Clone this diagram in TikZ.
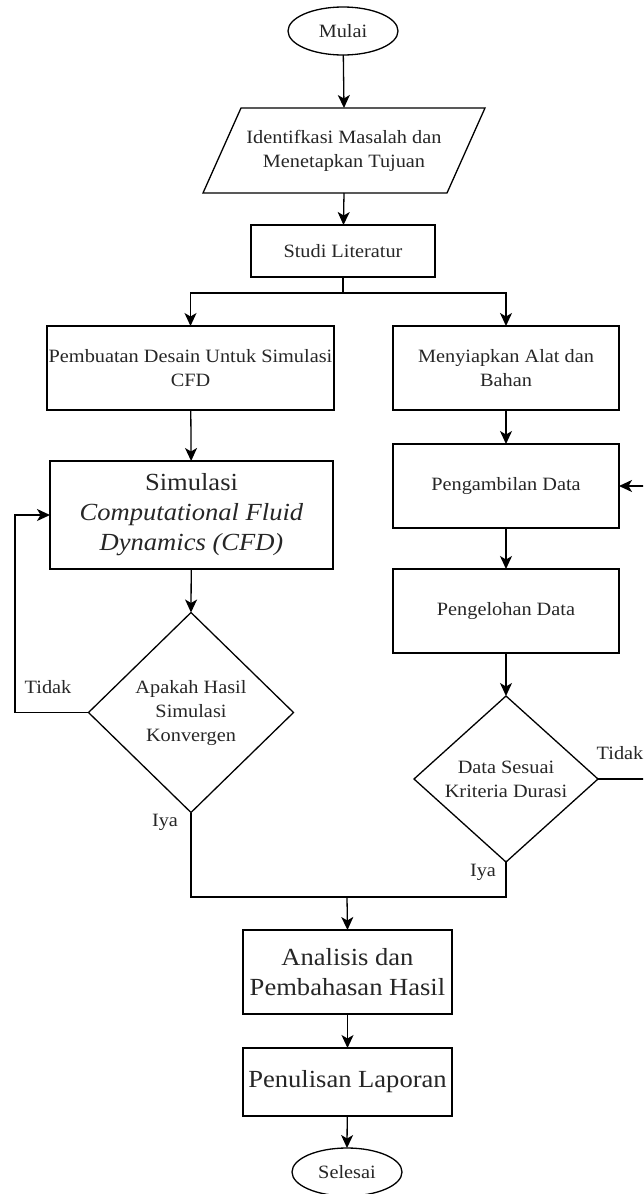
\documentclass[tikz,border=0pt]{standalone}
\usepackage{fontspec}
\setmainfont{Liberation Serif}[FakeStretch=1.08]
\usetikzlibrary{shapes.geometric,arrows.meta}
\begin{document}
\begin{tikzpicture}[x=1pt,y=-1pt,
  line width=1.3pt,
  every node/.style={inner sep=0pt,outer sep=0pt,align=center,text=black!85},
  sm/.style={font=\fontsize{18.8}{24}\selectfont},
  lg/.style={font=\fontsize{24.6}{30}\selectfont},
  boxr/.style={draw,rectangle,line width=1.3pt},
  term/.style={draw,ellipse,minimum width=110pt,line width=1.3pt},
  dec/.style={draw,diamond,line width=1.3pt},
  arr/.style={-{Stealth[length=13pt,width=12pt,inset=3.5pt]}},
  conn/.style={line width=1.3pt}]
\useasboundingbox (0,0) rectangle (643,1194);
\clip (0,0) rectangle (643,1194);

\node[term,sm,minimum height=48pt] (mulai) at (343,31) {Mulai};
\node[sm,minimum width=282pt,minimum height=85pt] (ident) at (344,150.5) {Identifkasi Masalah dan\\Menetapkan Tujuan};
\draw[line width=1.3pt] (ident.south west) -- ++(244,0) -- (ident.north east) -- ++(-244,0) -- cycle;
\node[boxr,sm,minimum width=184pt,minimum height=52pt] (studi) at (343,251) {Studi Literatur};

\node[boxr,sm,minimum width=287pt,minimum height=84pt] (desain) at (190.5,368) {Pembuatan Desain Untuk Simulasi\\CFD};
\node[boxr,sm,minimum width=226pt,minimum height=84pt] (siap) at (506,368) {Menyiapkan Alat dan\\Bahan};

\node[boxr,lg,minimum width=283pt,minimum height=108pt] (simulasi) at (191.5,515) {Simulasi\\\textit{Computational Fluid}\\\textit{Dynamics (CFD)}};
\node[boxr,sm,minimum width=226pt,minimum height=84pt] (ambil) at (506,486) {Pengambilan Data};
\node[boxr,sm,minimum width=226pt,minimum height=84pt] (olah) at (506,611) {Pengelohan Data};

\node[dec,sm,minimum width=205pt,minimum height=200pt,shape aspect=1.025] (dsim) at (191,712.5) {Apakah Hasil\\Simulasi\\Konvergen};
\node[dec,sm,minimum width=184pt,minimum height=166pt,shape aspect=1.108] (ddata) at (506,779) {Data Sesuai\\Kriteria Durasi};

\node[sm] (tidak1) at (48,687) {Tidak};
\node[sm] (iya1) at (165,822) {Iya};
\node[sm] (tidak2) at (620,753) {Tidak};
\node[sm] (iya2) at (483,872) {Iya};

\node[boxr,lg,minimum width=209pt,minimum height=84pt] (analisis) at (347.5,972) {Analisis dan\\Pembahasan Hasil};
\node[boxr,lg,minimum width=209pt,minimum height=68pt] (tulis) at (347.5,1082) {Penulisan Laporan};
\node[term,sm,minimum height=48pt] (selesai) at (347,1172) {Selesai};

\coordinate (split) at (343,293);
\coordinate (merge) at (347,897);
\coordinate (loopL) at (15,712.5);
\coordinate (loopR) at (660,779);

\draw[arr] (mulai) -- (ident.north);
\draw[arr] (ident.south) -- (studi);
\draw[conn] (studi.south) -- (split);
\draw[arr] (split) -| (desain.north);
\draw[arr] (split) -| (siap.north);
\draw[arr] (desain) -- (simulasi);
\draw[arr] (simulasi) -- (dsim.north);
\draw[arr] (siap) -- (ambil);
\draw[arr] (ambil) -- (olah);
\draw[arr] (olah) -- (ddata.north);
\draw[arr] (dsim.west) -- (loopL) |- (simulasi.west);
\draw[arr] (ddata.east) -- (loopR) |- (ambil.east);
\draw[conn] (dsim.south) |- (merge);
\draw[conn] (ddata.south) |- (merge);
\draw[arr] (merge) -- (analisis.north);
\draw[arr] (analisis) -- (tulis);
\draw[arr] (tulis) -- (selesai.north);
\end{tikzpicture}
\end{document}
